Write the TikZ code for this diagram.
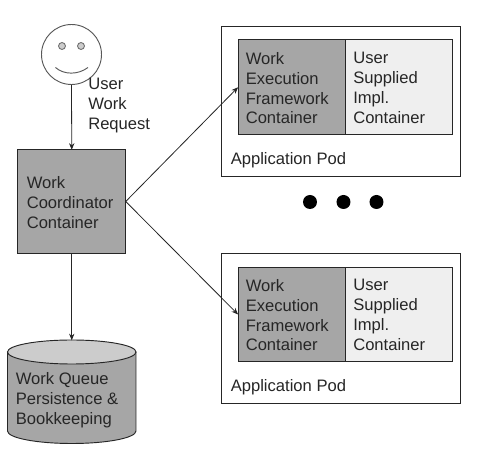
\documentclass[tikz,border=0pt]{standalone}
\usepackage{fontspec}
\setmainfont{Liberation Sans}
\usetikzlibrary{arrows.meta}
\definecolor{ink}{HTML}{262626}
\definecolor{greybox}{HTML}{A6A6A6}
\definecolor{lightbox}{HTML}{EFEFEF}
\definecolor{lid}{HTML}{CCCCCC}
\tikzset{
  lbl/.style={inner sep=0pt,align=left,anchor=north west,text=ink,font=\fontsize{12.45pt}{14.9pt}\selectfont},
  ctr/.style={draw=ink,line width=0.7pt,inner sep=0pt,outer sep=0pt},
  pod/.style={ctr,fill=white,draw=black!85},
  conn/.style={draw=ink,line width=0.6pt,-{Stealth[length=5pt,width=4pt]},shorten >=0pt},
  dot/.style={circle,fill=black,minimum size=10.5pt,inner sep=0pt},
  eye/.style={circle,draw=black!55,fill=lid,line width=0.7pt,minimum size=5.2pt,inner sep=0pt}
}
\begin{document}
\begin{tikzpicture}[x=0.75pt,y=-0.75pt]
\useasboundingbox (0,0) rectangle (480,456);
% face
\node[circle,draw=black!65,line width=0.7pt,minimum size=45pt,inner sep=0pt,fill=white] (face) at (71.5,54.5) {};
\node[eye] (eyeL) at (62,46) {};
\node[eye] (eyeR) at (81,46) {};
\draw[draw=black!65,line width=0.7pt] (55.5,67.5) .. controls (64,75) and (78,75) .. (88,67.5);
\node[lbl] (ulabel) at (88,78) {User\\Work\\Request};
% coordinator
\node[ctr,fill=greybox,minimum width=81pt,minimum height=77.5pt] (coord) at (71.75,201.5) {};
\node[lbl] (coordtxt) at (26.5,176.5) {Work\\Coordinator\\Container};
% queue
\node[inner sep=0pt,outer sep=0pt,minimum width=96.5pt,minimum height=77.5pt] (queue) at (71.75,392) {};
\fill[greybox] (7.5,352) -- (7.5,431) arc[start angle=180,end angle=360,x radius=64.25,y radius=-12.5] -- (136,352) arc[start angle=0,end angle=180,x radius=64.25,y radius=-12] -- cycle;
\filldraw[draw=ink,line width=0.7pt,fill=lid] (71.75,352) ellipse[x radius=64.25,y radius=12];
\draw[draw=ink,line width=0.7pt] (7.5,352) -- (7.5,431) arc[start angle=180,end angle=360,x radius=64.25,y radius=-12.5] -- (136,352);
\node[lbl] (queuetxt) at (15.5,372) {Work Queue\\Persistence \&\\Bookkeeping};
% pod 1
\node[pod,minimum width=179.5pt,minimum height=112pt] (podA) at (341,101.5) {};
\node[ctr,fill=greybox,minimum width=80.5pt,minimum height=71pt] (fwA) at (291.75,87.25) {};
\node[ctr,fill=lightbox,minimum width=80.5pt,minimum height=71pt] (usA) at (399,87.25) {};
\node[lbl] (fwAt) at (245.5,52) {Work\\Execution\\Framework\\Container};
\node[lbl] (usAt) at (353,52) {User\\Supplied\\Impl.\\Container};
\node[lbl] (podAt) at (230.5,152.5) {Application Pod};
% pod 2
\node[pod,minimum width=179.5pt,minimum height=112pt] (podB) at (341,328.5) {};
\node[ctr,fill=greybox,minimum width=80.5pt,minimum height=71pt] (fwB) at (291.75,314.5) {};
\node[ctr,fill=lightbox,minimum width=80.5pt,minimum height=71pt] (usB) at (399,314.5) {};
\node[lbl] (fwBt) at (245.5,279) {Work\\Execution\\Framework\\Container};
\node[lbl] (usBt) at (353,279) {User\\Supplied\\Impl.\\Container};
\node[lbl] (podBt) at (230.5,379.5) {Application Pod};
% dots
\node[dot] (d1) at (310,202) {};
\node[dot] (d2) at (343.5,202) {};
\node[dot] (d3) at (376.5,202) {};
% connectors
\draw[conn] (face.south) -- (coord.north);
\draw[conn] (coord.south) -- (queue.north);
\draw[conn] (coord.east) -- (fwA.west);
\draw[conn] (coord.east) -- (fwB.west);
\end{tikzpicture}
\end{document}
